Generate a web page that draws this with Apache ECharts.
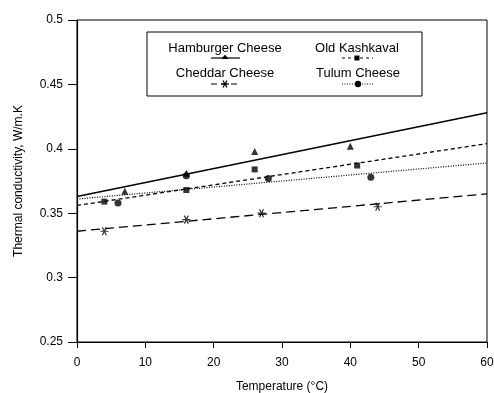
<!DOCTYPE html>
<html><head><meta charset="utf-8">
<script src="https://cdn.jsdelivr.net/npm/echarts@6/dist/echarts.min.js"></script>
<style>html,body{margin:0;padding:0;background:#fff}#c{width:494px;height:393px}</style>
</head><body><div id="c"></div>
<script>
// Data
const xTicks = [0, 10, 20, 30, 40, 50, 60];
const yTicks = [0.25, 0.3, 0.35, 0.4, 0.45, 0.5];
const names = ['Hamburger Cheese', 'Old Kashkaval', 'Cheddar Cheese', 'Tulum Cheese'];
const hamT = [7, 16, 26, 40];
const hamK = [0.367, 0.381, 0.398, 0.402];
const kasT = [4, 16, 26, 41];
const kasK = [0.359, 0.368, 0.384, 0.387];
const cheT = [4, 16, 27, 44];
const cheK = [0.336, 0.345, 0.350, 0.355];
const tulT = [6, 16, 28, 43];
const tulK = [0.358, 0.379, 0.377, 0.378];
// fitted lines: value at T=0 and T=60
const fitT = [0, 60];
const hamFit = [0.363, 0.428];
const kasFit = [0.356, 0.404];
const cheFit = [0.336, 0.365];
const tulFit = [0.361, 0.389];

const FONT = 'Liberation Sans';
const asterisk = 'path://M-1,0L1,0M-0.5,-0.87L0.5,0.87M-0.5,0.87L0.5,-0.87';
const zip = (a, b) => a.map((v, i) => [v, b[i]]);

const chart = echarts.init(document.getElementById('c'));
function fitLine(name, vals, type, width) {
  return { name, type: 'line', data: zip(fitT, vals), showSymbol: false, symbol: 'none',
    lineStyle: { color: '#000', width, type }, silent: true, animation: false, z: 2 };
}
function pts(name, t, k, symbol, size, hollow) {
  return { name, type: 'scatter', data: zip(t, k), symbol, symbolSize: size, animation: false, z: 3,
    itemStyle: hollow ? { color: 'rgba(0,0,0,0)', borderColor: '#000', borderWidth: 1.2 } : { color: '#000' } };
}
const legendY1 = 48, legendY2 = 73;
function legText(x, y, t) {
  return { type: 'text', x, y, z: 11, style: { text: t, font: '13px ' + FONT, fill: '#000', align: 'center', verticalAlign: 'middle' } };
}
function seg(x1, y1, x2, y2, dash) {
  const st = { stroke: '#000', lineWidth: 1.2 };
  if (dash) st.lineDash = dash;
  return { type: 'line', z: 11, shape: { x1, y1, x2, y2 }, style: st };
}
chart.setOption({
  animation: false,
  grid: { left: 77, right: 7, top: 20, bottom: 51, show: true, borderColor: '#000', borderWidth: 1,
    containLabel: false, outerBoundsMode: 'none' },
  xAxis: {
    type: 'value', min: xTicks[0], max: xTicks[xTicks.length - 1], interval: 10,
    name: 'Temperature (°C)', nameLocation: 'middle', nameGap: 39,
    nameTextStyle: { fontFamily: FONT, fontSize: 12, color: '#000' },
    axisLine: { lineStyle: { color: '#000', width: 1.2 } },
    axisTick: { show: true, inside: false, length: 6, lineStyle: { color: '#000' } },
    axisLabel: { fontFamily: FONT, fontSize: 12, color: '#000', margin: 15 },
    splitLine: { show: false }
  },
  yAxis: {
    type: 'value', min: yTicks[0], max: yTicks[yTicks.length - 1], interval: 0.05,
    name: 'Thermal conductivity, W/m.K', nameLocation: 'middle', nameGap: 52,
    nameTextStyle: { fontFamily: FONT, fontSize: 12, color: '#000' },
    axisLine: { show: true, lineStyle: { color: '#000', width: 1.2 } },
    axisTick: { show: true, inside: false, length: 9, lineStyle: { color: '#000' } },
    axisLabel: { fontFamily: FONT, fontSize: 12, color: '#000', margin: 14,
      formatter: v => String(+v.toFixed(2)) },
    splitLine: { show: false }
  },
  series: [
    fitLine(names[0], hamFit, 'solid', 1.5),
    fitLine(names[1], kasFit, [4, 3], 1.3),
    fitLine(names[2], cheFit, [9, 5], 1.3),
    fitLine(names[3], tulFit, [1, 1.5], 1.2),
    pts(names[0], hamT, hamK, 'triangle', 7, false),
    pts(names[1], kasT, kasK, 'rect', 6, false),
    pts(names[2], cheT, cheK, asterisk, 8, true),
    pts(names[3], tulT, tulK, 'circle', 7, false)
  ],
  graphic: [
    { type: 'rect', z: 10, shape: { x: 147, y: 32, width: 275, height: 64 }, style: { fill: '#fff', stroke: '#000', lineWidth: 1 } },
    legText(225, legendY1, names[0]),
    legText(357, legendY1, names[1]),
    legText(225, legendY2, names[2]),
    legText(358, legendY2, names[3]),
    seg(211, 58, 240, 58),
    { type: 'polygon', z: 11, shape: { points: [[225, 54.5], [221.5, 59], [228.5, 59]] }, style: { fill: '#000' } },
    seg(342, 58, 373, 58, [3, 3]),
    { type: 'rect', z: 11, shape: { x: 354.5, y: 55.5, width: 5, height: 5 }, style: { fill: '#000' } },
    seg(211, 84, 240, 84, [6, 4]),
    seg(221, 84, 229, 84), seg(223, 80.5, 227, 87.5), seg(223, 87.5, 227, 80.5),
    seg(342, 84, 373, 84, [1, 1.5]),
    { type: 'circle', z: 11, shape: { cx: 358, cy: 84, r: 3.2 }, style: { fill: '#000' } }
  ]
});
</script></body></html>
